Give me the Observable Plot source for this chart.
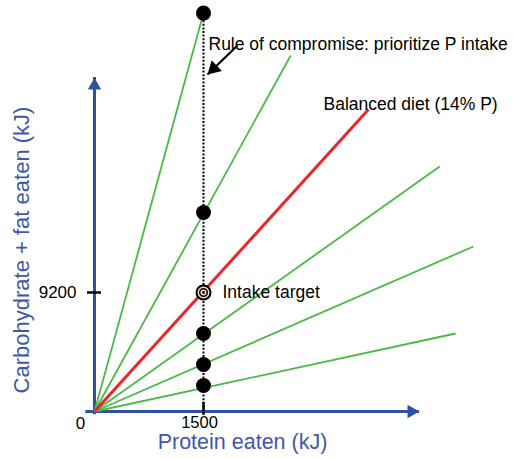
<!DOCTYPE html>
<html>
<head>
<meta charset="utf-8">
<script src="https://cdn.jsdelivr.net/npm/d3@7"></script>
<script src="https://cdn.jsdelivr.net/npm/@observablehq/plot@0.6"></script>
<style>
  html, body { margin: 0; padding: 0; background: #fff; }
  #chart svg { overflow: visible; display: block; }
</style>
</head>
<body>
<div id="chart"></div>
<script>
// ---- data (kJ) ----
const rayEndProtein = [1500, 2700, 3770, 4750, 5215, 4970];
const rayEndCarbFat = [30800, 27520, 23350, 18940, 12760, 6030];
const rayKind = ["rule", "rule", "balanced", "rule", "rule", "rule"];

const pointProtein = [1500, 1500, 1500, 1500, 1500];
const pointCarbFat = [30800, 15390, 6030, 3630, 2010];

const targetProtein = 1500;
const targetCarbFat = 9200;

const xTickValues = [1500];
const yTickValues = [9200];

const xAxisEnd = 4472;
const yAxisEnd = 25820;

const xTitle = "Protein eaten (kJ)";
const yTitle = "Carbohydrate + fat eaten (kJ)";
const ruleLabel = "Rule of compromise: prioritize P intake";
const balancedLabel = "Balanced diet (14% P)";
const targetLabel = "Intake target";

const arrowFrom = [1968, 28300];
const arrowTo = [1555, 26050];

// ---- derived tables ----
const rays = rayEndProtein.map((p, i) => ({x1: 0, y1: 0, x2: p, y2: rayEndCarbFat[i], kind: rayKind[i]}));
const points = pointProtein.map((p, i) => ({x: p, y: pointCarbFat[i]}));
const target = [{x: targetProtein, y: targetCarbFat}];

const blue = "#2f51a3";
const textBlue = "#3f58a8";
const green = "#4cb848";
const red = "#e8262b";
const font = "Liberation Sans, Arial, Helvetica, sans-serif";

const W = 513, H = 459, mL = 94, mB = 48;
const xMax = 1500 * (W - mL) / 109;
const yMax = 9200 * (H - mB) / 119;

const chart = Plot.plot({
  width: W,
  height: H,
  marginLeft: mL,
  marginRight: 0,
  marginTop: 0,
  marginBottom: mB,
  style: {fontFamily: font, background: "white", overflow: "visible"},
  x: {domain: [0, xMax], axis: null},
  y: {domain: [0, yMax], axis: null},
  marks: [
    // axes
    Plot.ruleY([0], {x1: -120, x2: xAxisEnd, stroke: blue, strokeWidth: 3}),
    Plot.ruleX([0], {y1: -250, y2: yAxisEnd, stroke: blue, strokeWidth: 3}),
    Plot.dot([{x: xAxisEnd, y: 0}], {x: "x", y: "y", symbol: "triangle", r: 5, rotate: 90, fill: blue, dx: -8}),
    Plot.dot([{x: 0, y: yAxisEnd}], {x: "x", y: "y", symbol: "triangle", r: 5, rotate: 0, fill: blue, dy: 8}),
    // ticks
    Plot.ruleX(xTickValues, {y1: -300, y2: 700, stroke: "black", strokeWidth: 2.5}),
    Plot.ruleY(yTickValues, {x1: -96, x2: 96, stroke: "black", strokeWidth: 2.5}),
    Plot.text(xTickValues, {x: d => d, y: 0, text: d => String(d), dy: 11, dx: -4, fontSize: 16.5, fill: "black"}),
    Plot.text(yTickValues, {x: 0, y: d => d, text: d => String(d), dx: -18, textAnchor: "end", fontSize: 17, fill: "black"}),
    Plot.text(["0"], {x: 0, y: 0, text: d => d, dx: -14, dy: 12, fontSize: 17, fill: "black"}),
    // axis titles
    Plot.text([xTitle], {frameAnchor: "bottom-left", text: d => d, dx: 148, dy: 37, textAnchor: "middle", fontSize: 21.5, fill: textBlue}),
    Plot.text([yTitle], {frameAnchor: "left", text: d => d, dx: -73, dy: 44, rotate: -90, textAnchor: "middle", fontSize: 22, fill: textBlue}),
    // rays
    Plot.link(rays.filter(d => d.kind === "rule"), {x1: "x1", y1: "y1", x2: "x2", y2: "y2", stroke: green, strokeWidth: 1.8}),
    // compromise line
    Plot.ruleX([targetProtein], {y1: 0, y2: pointCarbFat[0], stroke: "black", strokeWidth: 2, strokeDasharray: "2,1.6"}),
    Plot.link(rays.filter(d => d.kind === "balanced"), {x1: "x1", y1: "y1", x2: "x2", y2: "y2", stroke: red, strokeWidth: 3}),
    // points
    Plot.dot(points, {x: "x", y: "y", r: 7.5, fill: "black"}),
    // intake target
    Plot.dot(target, {x: "x", y: "y", r: 7, fill: "#f6d6bf", stroke: "black", strokeWidth: 2}),
    Plot.dot(target, {x: "x", y: "y", r: 3.8, fill: "none", stroke: "black", strokeWidth: 1.5}),
    Plot.dot(target, {x: "x", y: "y", r: 1.4, fill: "black"}),
    // annotations
    Plot.text([targetLabel], {x: targetProtein, y: targetCarbFat, text: d => d, dx: 19, textAnchor: "start", fontSize: 17.5, fill: "black"}),
    Plot.text([ruleLabel], {frameAnchor: "top-left", text: d => d, dx: 114, dy: 37, textAnchor: "start", fontSize: 17.5, fill: "black"}),
    Plot.text([balancedLabel], {frameAnchor: "top-left", text: d => d, dx: 229, dy: 97, textAnchor: "start", fontSize: 17.5, fill: "black"}),
    Plot.link([{x1: arrowFrom[0], y1: arrowFrom[1], x2: arrowTo[0], y2: arrowTo[1]}], {x1: "x1", y1: "y1", x2: "x2", y2: "y2", stroke: "black", strokeWidth: 2.2}),
    Plot.dot([{x: arrowTo[0], y: arrowTo[1]}], {x: "x", y: "y", symbol: "triangle", r: 5.5, rotate: -134, fill: "black", dx: 6.2, dy: -6})
  ]
});
document.getElementById("chart").appendChild(chart);
</script>
</body>
</html>
